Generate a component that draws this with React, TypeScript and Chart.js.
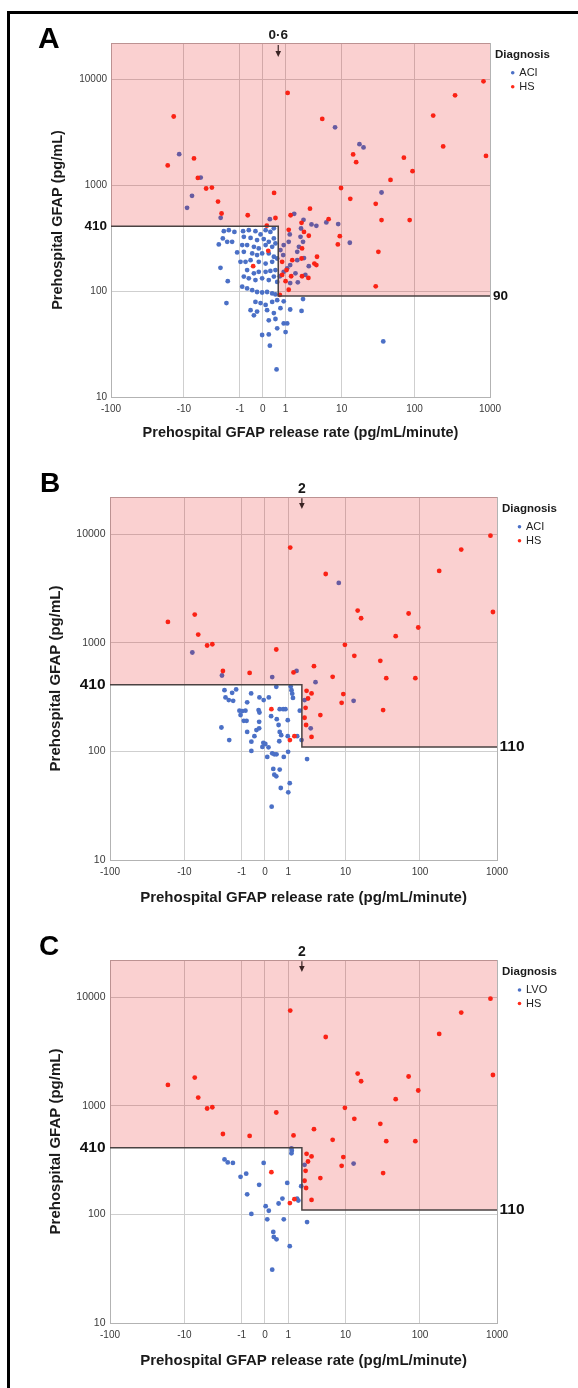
import React, { useEffect, useRef } from 'react';
import { Chart, registerables, LinearScale } from 'chart.js';

Chart.register(...registerables);

// ---------- data (rate pg/mL/minute, GFAP pg/mL) ----------
const X_TICKS = [-100, -10, -1, 0, 1, 10, 100, 1000];
const Y_TICKS = [10, 100, 1000, 10000];
const HIGH_CUT = 410;

const A_ACI: number[][] = [
  [-11.7, 1960], [-7.6, 793], [-9, 611], [-5.6, 1180], [-2.6, 492], [0.24, 478], [1.6, 536], [2.45, 471],
  [8.0, 3520], [17.9, 2440], [20.4, 2270], [36, 853],
  [3.4, 426], [4.1, 413], [5.9, 445], [8.9, 429], [13.1, 286],
  [1.27, 343], [2.2, 390], [2.15, 325], [2.4, 292], [2.0, 262], [1.85, 235], [1.2, 292], [0.89, 272], [0.71, 244],
  [0.86, 219], [1.85, 196], [2.5, 205], [3.05, 172], [1.3, 176], [1.1, 164], [0.89, 152], [0.68, 138], [1.7, 147],
  [2.65, 142], [1.3, 119], [1.9, 121],
  [2.4, 84], [1.3, 67], [2.25, 65], [0.89, 80], [0.71, 69], [0.89, 49.5], [1.1, 49.5], [1.0, 41], [38, 33.5],
  [-0.82, 368], [-0.53, 376], [-0.25, 368], [-0.07, 343], [0.09, 376], [0.26, 362], [0.4, 391],
  [-0.78, 325], [-0.45, 318], [-0.19, 303], [0.03, 310], [0.2, 292], [0.4, 314],
  [-0.87, 272], [-0.61, 272], [-0.31, 262], [-0.13, 253], [0.09, 272], [0.33, 262], [0.47, 282],
  [-0.78, 235], [-0.38, 227], [-0.19, 219], [-0.02, 227], [0.2, 227], [0.4, 211],
  [-0.69, 189], [-0.45, 196], [-0.13, 189], [0.09, 182], [0.33, 189], [0.55, 203],
  [-0.61, 158], [-0.31, 147], [-0.13, 152], [0.09, 152], [0.26, 155], [0.47, 158],
  [-0.78, 137], [-0.53, 132], [-0.25, 127], [-0.02, 132], [0.2, 127], [0.4, 137], [0.55, 122],
  [-0.87, 110], [-0.61, 106], [-0.38, 102], [-0.19, 98], [-0.02, 97], [0.14, 98], [0.33, 95], [0.47, 93],
  [-0.25, 79], [-0.07, 77], [0.09, 74], [0.33, 79], [0.55, 82],
  [-0.45, 66], [-0.19, 64], [0.14, 66], [0.4, 62],
  [-0.31, 59], [0.2, 53], [0.47, 54.5],
  [-0.02, 38.5], [0.2, 39], [0.55, 44.5], [0.24, 30.5], [0.52, 18.2],
  [-2.27, 368], [-1.81, 376], [-1.37, 362], [-2.37, 314], [-1.95, 292], [-1.54, 292], [-2.81, 276],
  [-1.18, 232], [-0.97, 189], [-2.62, 166], [-1.9, 124], [-2.02, 77],
];

const A_HS: number[][] = [
  [-14, 4450], [-17, 1535], [-7.1, 1790], [-6.2, 1170], [-4.6, 930], [-3.7, 950], [-2.9, 700], [-2.5, 540],
  [-0.58, 520], [0.41, 845], [0.47, 490], [1.13, 7430], [1.33, 520], [3.2, 600], [5.1, 4220], [6.4, 478],
  [9.8, 940], [13.3, 743], [14.6, 1950], [16.1, 1650], [30, 666], [36, 468], [47.6, 1120], [72, 1820],
  [86, 468], [94, 1356], [177, 4540], [240, 2320], [345, 7060], [820, 9570], [885, 1890],
  [0.13, 415], [2.25, 441],
  [1.2, 379], [2.5, 362], [3.05, 333], [2.3, 253], [0.8, 189], [1.45, 196], [2.25, 203], [4.2, 211],
  [3.8, 182], [4.1, 176], [1.06, 158], [0.8, 142], [1.37, 138], [2.3, 138], [3.0, 133], [1.0, 124],
  [1.2, 103], [0.68, 92],
  [9.4, 330], [8.8, 276], [30, 111], [32.6, 235],
  [0.18, 240], [-0.34, 172],
];

const B_ACI: number[][] = [
  [-7.7, 814], [-2.6, 500], [0.24, 483], [1.56, 551], [8.0, 3556],
  [3.5, 434], [2.25, 297], [2.9, 163], [1.97, 127], [13, 292],
  [1.15, 395], [1.2, 366], [1.25, 340], [1.3, 311],
  [-2.34, 366], [-1.36, 372], [-1.66, 346], [-2.24, 314], [-1.94, 297], [-1.58, 292], [-0.51, 342],
  [-0.7, 283], [-0.04, 297], [0.12, 314], [0.4, 393], [-0.18, 314],
  [-1.14, 237], [-0.97, 235], [-0.79, 237], [-0.21, 240], [-1.07, 216], [-0.88, 191], [-0.73, 191],
  [-0.19, 187], [0.2, 211], [0.42, 198], [0.55, 245], [0.72, 245], [0.84, 245], [0.97, 194], [1.82, 237],
  [-0.18, 228], [0.5, 175],
  [-2.66, 166], [-0.7, 151], [-0.29, 157], [-0.19, 163], [-0.37, 138], [-1.9, 127], [0.55, 151],
  [0.62, 141], [0.53, 124], [0.97, 138], [1.61, 138], [-0.5, 123],
  [-0.05, 120], [0.01, 117], [0.11, 109], [-0.08, 110], [-0.5, 101], [0.24, 96], [0.32, 94], [0.41, 94],
  [0.07, 89], [0.75, 89], [0.99, 99], [2.5, 85],
  [0.28, 69], [0.55, 68], [0.32, 61], [0.4, 59], [0.6, 46], [1.09, 51], [1.0, 42], [0.22, 31],
];

const B_HS: number[][] = [
  [-17, 1555], [-7.1, 1820], [-6.3, 1190], [-4.6, 944], [-3.8, 970], [-2.5, 550], [-0.58, 528], [0.4, 867],
  [1.12, 7530], [1.34, 533], [3.3, 609], [5.1, 4300], [6.5, 486], [9.8, 957], [13.3, 759], [14.8, 1980],
  [16.5, 1683], [30, 682], [36, 472], [48, 1150], [71, 1860], [87, 472], [95, 1383], [178, 4585],
  [344, 7220], [823, 9700], [886, 1920],
  [2.45, 361], [3.0, 342], [2.6, 307], [2.35, 252], [4.2, 216], [2.25, 204], [2.4, 175], [3.0, 136],
  [9.3, 337], [8.8, 280], [32.7, 240], [0.21, 245], [1.1, 127], [1.4, 138],
];

const C_LVO: number[][] = [
  [1.2, 405], [1.22, 385], [1.2, 365], [-2.34, 321], [-2.03, 301], [-1.6, 298], [-0.04, 298],
  [-1.07, 222], [-0.75, 237], [-0.19, 187], [0.94, 195], [2.25, 286], [1.94, 182], [-0.7, 153],
  [0.68, 140], [0.5, 126], [0.02, 119], [0.12, 108], [1.6, 140], [1.7, 134], [-0.5, 101], [0.07, 90],
  [0.75, 90], [2.5, 85], [0.28, 69], [0.3, 62], [0.41, 59], [1.09, 51], [0.24, 31], [13, 294],
];

const C_HS: number[][] = B_HS;

const X_TITLE = 'Prehospital GFAP release rate (pg/mL/minute)';
const Y_TITLE = 'Prehospital GFAP (pg/mL)';

// ---------- custom symmetric log(1+|x|) scale ----------
const fwd = (v: number) => Math.sign(v) * Math.log10(Math.abs(v) + 1);
const inv = (t: number) => Math.sign(t) * (Math.pow(10, Math.abs(t)) - 1);

class SymLogScale extends LinearScale {
  static id = 'symlog1p';
  static defaults = {};
  _tStart = 0;
  _tRange = 1;
  configure() {
    super.configure();
    this._tStart = fwd(this.min);
    this._tRange = fwd(this.max) - fwd(this.min);
  }
  getPixelForValue(value: any) {
    if (value === null || value === undefined) return NaN;
    return this.getPixelForDecimal((fwd(value) - this._tStart) / this._tRange);
  }
  getValueForPixel(pixel: number) {
    return inv(this._tStart + this.getDecimalForPixel(pixel) * this._tRange);
  }
}
Chart.register(SymLogScale as any);

// ---------- styles / layout ----------
const FONT = "'Liberation Sans', Arial, Helvetica, sans-serif";
const BLUE = '#4b70c6';
const RED = '#ff2a1a';
const GRID = '#cfcfcf';
const BORDER = '#b3b3b3';

const PANELS = [
  {
    key: 'A', top: 0, h: 463, yW: 111, rW: 88, tH: 43, bH: 66,
    cut: 0.6, cutLabel: '0\u00b76', low: 90,
    yTick: 10, cutVal: 13.5, cutSize: 13.5, topPad: 0.5, title: 14.5,
    xTitlePad: 21.3, yTitlePad: 49.3, yPad: 4, rPad: 3, arrow: [2, 14],
    legend: { x: 495, y0: 55, y1: 72.7, dy: 14, dotX: 512.7, textX: 519.3 },
    series: [
      { label: 'ACI', color: BLUE, data: A_ACI },
      { label: 'HS', color: RED, data: A_HS },
    ],
    letter: { x: 38, y: 22.8, size: 30 },
  },
  {
    key: 'B', top: 463, h: 463, yW: 110, rW: 81, tH: 34, bH: 66,
    cut: 2, cutLabel: '2', low: 110,
    yTick: 10.5, cutVal: 15.5, cutSize: 14, topPad: 1, title: 15,
    xTitlePad: 19, yTitlePad: 47, yPad: 4.5, rPad: 2.5, arrow: [1.3, 12],
    legend: { x: 502, y0: 46, y1: 63.7, dy: 14, dotX: 519.5, textX: 526 },
    series: [
      { label: 'ACI', color: BLUE, data: B_ACI },
      { label: 'HS', color: RED, data: B_HS },
    ],
    letter: { x: 40, y: 6.4, size: 28 },
  },
  {
    key: 'C', top: 926, h: 462, yW: 110, rW: 81, tH: 34, bH: 65,
    cut: 2, cutLabel: '2', low: 110,
    yTick: 10.5, cutVal: 15.5, cutSize: 14, topPad: 1, title: 15,
    xTitlePad: 18.3, yTitlePad: 47, yPad: 4.5, rPad: 2.5, arrow: [1.3, 12],
    legend: { x: 502, y0: 45.7, y1: 64, dy: 13.5, dotX: 519.5, textX: 526 },
    series: [
      { label: 'LVO', color: BLUE, data: C_LVO },
      { label: 'HS', color: RED, data: C_HS },
    ],
    letter: { x: 39, y: 6, size: 28 },
  },
];

function buildConfig(p: any): any {
  const overlay = {
    id: 'gfapOverlay' + p.key,
    afterDatasetsDraw(chart: any) {
      const { ctx, chartArea: a, scales } = chart;
      const xc = scales.x.getPixelForValue(p.cut);
      const yHi = scales.y.getPixelForValue(HIGH_CUT);
      const yLo = scales.y.getPixelForValue(p.low);
      ctx.save();
      ctx.beginPath();
      ctx.moveTo(a.left, a.top);
      ctx.lineTo(a.right, a.top);
      ctx.lineTo(a.right, yLo);
      ctx.lineTo(xc, yLo);
      ctx.lineTo(xc, yHi);
      ctx.lineTo(a.left, yHi);
      ctx.closePath();
      ctx.fillStyle = 'rgba(226,0,0,0.185)';
      ctx.fill();
      ctx.beginPath();
      ctx.moveTo(a.left, yHi);
      ctx.lineTo(xc, yHi);
      ctx.lineTo(xc, yLo);
      ctx.lineTo(a.right, yLo);
      ctx.strokeStyle = '#4a4242';
      ctx.lineWidth = 1.5;
      ctx.stroke();
      // arrow pointing at the cut-off
      const y0 = a.top + p.arrow[0];
      const y1 = a.top + p.arrow[1];
      ctx.beginPath();
      ctx.moveTo(xc, y0);
      ctx.lineTo(xc, y1 - 4);
      ctx.strokeStyle = '#3a2424';
      ctx.lineWidth = 1.2;
      ctx.stroke();
      ctx.beginPath();
      ctx.moveTo(xc - 2.8, y1 - 6);
      ctx.lineTo(xc + 2.8, y1 - 6);
      ctx.lineTo(xc, y1);
      ctx.closePath();
      ctx.fillStyle = '#3a2424';
      ctx.fill();
      ctx.restore();
    },
    afterDraw(chart: any) {
      const ctx = chart.ctx;
      const L = p.legend;
      ctx.save();
      ctx.textBaseline = 'middle';
      ctx.textAlign = 'left';
      ctx.fillStyle = '#1a1a1a';
      ctx.font = `bold 11.5px ${FONT}`;
      ctx.fillText('Diagnosis', L.x, L.y0);
      p.series.forEach((s: any, i: number) => {
        const yy = L.y1 + i * L.dy;
        ctx.fillStyle = s.color;
        ctx.beginPath();
        ctx.arc(L.dotX, yy, 1.8, 0, Math.PI * 2);
        ctx.fill();
        ctx.fillStyle = '#222';
        ctx.font = `11px ${FONT}`;
        ctx.fillText(s.label, L.textX, yy);
      });
      ctx.restore();
    },
  };

  const datasets = p.series.map((s: any, i: number) => ({
    label: s.label,
    data: s.data.map((d: number[]) => ({ x: d[0], y: d[1] })),
    backgroundColor: s.color,
    borderColor: s.color,
    pointRadius: 2.4,
    pointBorderWidth: 0,
    pointHoverRadius: 2.4,
    order: i === 0 ? 1 : 0,
  }));

  return {
    type: 'scatter',
    data: { datasets },
    plugins: [overlay],
    options: {
      responsive: false,
      animation: false,
      events: [],
      devicePixelRatio: 1,
      layout: { padding: 0, autoPadding: false },
      plugins: { legend: { display: false }, tooltip: { enabled: false }, title: { display: false } },
      scales: {
        x: {
          type: 'symlog1p', axis: 'x', position: 'bottom', min: -100, max: 1000,
          afterBuildTicks: (s: any) => { s.ticks = X_TICKS.map((v) => ({ value: v })); },
          afterFit: (s: any) => { s.height = p.bH; },
          ticks: {
            autoSkip: false, maxRotation: 0, minRotation: 0, padding: 6, color: '#3a3a3a',
            font: { family: FONT, size: 10 },
            callback: (v: any) => String(v),
          },
          grid: { color: GRID, lineWidth: 1, drawTicks: false, tickLength: 0 },
          border: { color: BORDER, width: 1 },
          title: {
            display: true, text: X_TITLE, color: '#1a1a1a',
            font: { family: FONT, size: p.title, weight: 'bold' },
            padding: { top: 0, bottom: p.xTitlePad },
          },
        },
        xTop: {
          type: 'symlog1p', axis: 'x', position: 'top', min: -100, max: 1000,
          afterBuildTicks: (s: any) => { s.ticks = [{ value: p.cut }]; },
          afterFit: (s: any) => { s.height = p.tH; },
          ticks: {
            autoSkip: false, maxRotation: 0, minRotation: 0, padding: p.topPad, color: '#1a1a1a',
            font: { family: FONT, size: p.cutSize, weight: 'bold', lineHeight: 1 },
            callback: () => p.cutLabel,
          },
          grid: { display: false, drawTicks: false, tickLength: 0 },
          border: { color: BORDER, width: 1 },
        },
        y: {
          type: 'logarithmic', axis: 'y', position: 'left', min: 10, max: 22000,
          afterBuildTicks: (s: any) => {
            s.ticks = [...Y_TICKS, HIGH_CUT].sort((a, b) => a - b).map((v) => ({ value: v }));
          },
          afterFit: (s: any) => { s.width = p.yW; },
          ticks: {
            autoSkip: false, padding: p.yPad,
            color: (c: any) => (c.tick && c.tick.value === HIGH_CUT ? '#111' : '#3a3a3a'),
            font: (c: any) =>
              c.tick && c.tick.value === HIGH_CUT
                ? { family: FONT, size: p.cutVal, weight: 'bold' }
                : { family: FONT, size: p.yTick },
            callback: (v: any) => String(v),
          },
          grid: {
            color: (c: any) => (c.tick && c.tick.value === HIGH_CUT ? 'rgba(0,0,0,0)' : GRID),
            lineWidth: 1, drawTicks: false, tickLength: 0,
          },
          border: { color: BORDER, width: 1 },
          title: {
            display: true, text: Y_TITLE, color: '#1a1a1a',
            font: { family: FONT, size: p.title, weight: 'bold' },
            padding: { top: p.yTitlePad, bottom: 0 },
          },
        },
        yRight: {
          type: 'logarithmic', axis: 'y', position: 'right', min: 10, max: 22000,
          afterBuildTicks: (s: any) => { s.ticks = [{ value: p.low }]; },
          afterFit: (s: any) => { s.width = p.rW; },
          ticks: {
            autoSkip: false, padding: p.rPad, color: '#111',
            font: { family: FONT, size: p.cutVal, weight: 'bold' },
            callback: (v: any) => String(v),
          },
          grid: { display: false, drawTicks: false, tickLength: 0 },
          border: { color: BORDER, width: 1 },
        },
      },
    },
  };
}

function Panel({ p }: { p: any }) {
  const ref = useRef<HTMLCanvasElement>(null);
  useEffect(() => {
    const chart = new Chart(ref.current as HTMLCanvasElement, buildConfig(p));
    return () => chart.destroy();
  }, []);
  return (
    <>
      <canvas
        ref={ref}
        width={578}
        height={p.h}
        style={{ position: 'absolute', left: 0, top: p.top, width: 578, height: p.h, display: 'block' }}
      />
      <div
        style={{
          position: 'absolute', left: p.letter.x, top: p.top + p.letter.y,
          fontFamily: FONT, fontWeight: 'bold', fontSize: p.letter.size, lineHeight: 1, color: '#000',
        }}
      >
        {p.key}
      </div>
    </>
  );
}

export default function App() {
  return (
    <div
      style={{
        position: 'absolute', left: 0, top: 0, width: 578, height: 1388,
        overflow: 'hidden', background: '#fff',
      }}
    >
      {PANELS.map((p) => (
        <Panel key={p.key} p={p} />
      ))}
      <div style={{ position: 'absolute', left: 7, top: 11, width: 571, height: 3, background: '#000' }} />
      <div style={{ position: 'absolute', left: 7, top: 11, width: 3, height: 1377, background: '#000' }} />
    </div>
  );
}
